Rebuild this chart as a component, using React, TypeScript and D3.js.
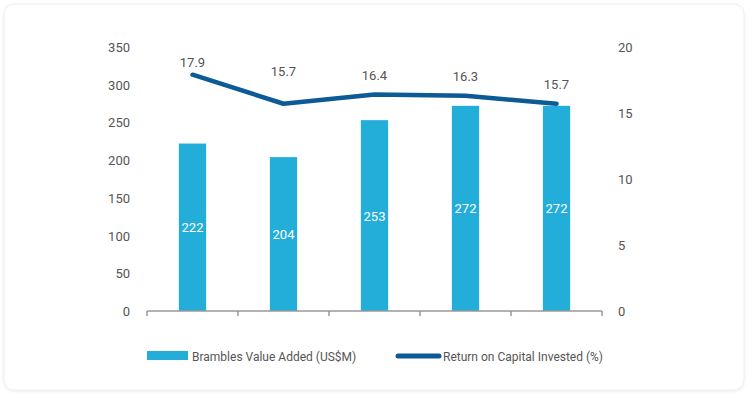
import { useEffect, useRef } from "react";
import * as d3 from "d3";

const years = ["2015", "2016", "2017", "2018", "2019"];
const valueAdded = [222, 204, 253, 272, 272];
const roci = [17.9, 15.7, 16.4, 16.3, 15.7];
const leftTicks = [0, 50, 100, 150, 200, 250, 300, 350];
const rightTicks = [0, 5, 10, 15, 20];

const App = () => {
  const svgRef = useRef<SVGSVGElement>(null);

  useEffect(() => {
    document.body.style.margin = "0";
    const width = 750;
    const height = 397;
    const margin = { top: 47, right: 148, bottom: 86, left: 147 };
    const font = "Roboto, 'Open Sans', sans-serif";

    const svg = d3.select(svgRef.current);
    svg.selectAll("*").remove();
    svg.attr("width", width).attr("height", height);

    const defs = svg.append("defs");
    const f = defs.append("filter").attr("id", "sh").attr("x", "-5%").attr("y", "-5%").attr("width", "110%").attr("height", "110%");
    f.append("feDropShadow").attr("dx", 0).attr("dy", 1).attr("stdDeviation", 1.5).attr("flood-color", "#000").attr("flood-opacity", 0.08);

    svg.append("rect")
      .attr("x", 4).attr("y", 4)
      .attr("width", 740).attr("height", 386)
      .attr("rx", 10)
      .attr("fill", "#fff")
      .attr("stroke", "#eeeeee")
      .attr("filter", "url(#sh)");

    const x = d3.scaleBand()
      .domain(years)
      .range([margin.left, width - margin.right]);

    const yL = d3.scaleLinear().domain([0, 350]).range([height - margin.bottom, margin.top]);
    const yR = d3.scaleLinear().domain([0, 20]).range([height - margin.bottom, margin.top]);

    const barW = x.bandwidth() * 0.3;

    // bars
    svg.append("g")
      .attr("fill", "#22aed9")
      .selectAll("rect")
      .data(valueAdded)
      .join("rect")
      .attr("x", (_, i) => x(years[i])! + x.bandwidth() / 2 - barW / 2)
      .attr("y", (d) => yL(d))
      .attr("width", barW)
      .attr("height", (d) => yL(0) - yL(d));

    svg.append("g")
      .selectAll("text")
      .data(valueAdded)
      .join("text")
      .attr("x", (_, i) => x(years[i])! + x.bandwidth() / 2)
      .attr("y", (d) => (yL(d) + yL(0)) / 2 + 5)
      .attr("text-anchor", "middle")
      .attr("font-family", font)
      .attr("font-size", 13)
      .attr("fill", "#fff")
      .text((d) => d);

    // x axis
    const ax = svg.append("g").attr("transform", `translate(0,${yL(0)})`);
    ax.append("line")
      .attr("x1", margin.left).attr("x2", width - margin.right)
      .attr("stroke", "#999").attr("stroke-width", 1.5);
    ax.selectAll("line.tick")
      .data(d3.range(years.length + 1))
      .join("line")
      .attr("class", "tick")
      .attr("x1", (i) => margin.left + i * x.step())
      .attr("x2", (i) => margin.left + i * x.step())
      .attr("y1", 0).attr("y2", 5)
      .attr("stroke", "#999").attr("stroke-width", 1.5);

    // left axis labels
    svg.append("g")
      .selectAll("text")
      .data(leftTicks)
      .join("text")
      .attr("x", 130)
      .attr("y", (d) => yL(d) + 5)
      .attr("text-anchor", "end")
      .attr("font-family", font)
      .attr("font-size", 13)
      .attr("fill", "#555")
      .text((d) => d);

    // right axis labels
    svg.append("g")
      .selectAll("text")
      .data(rightTicks)
      .join("text")
      .attr("x", 618)
      .attr("y", (d) => yR(d) + 5)
      .attr("text-anchor", "start")
      .attr("font-family", font)
      .attr("font-size", 13)
      .attr("fill", "#555")
      .text((d) => d);

    // line
    const line = d3.line<number>()
      .x((_, i) => x(years[i])! + x.bandwidth() / 2)
      .y((d) => yR(d));

    svg.append("path")
      .datum(roci)
      .attr("d", line)
      .attr("fill", "none")
      .attr("stroke", "#0c5a96")
      .attr("stroke-width", 4.5)
      .attr("stroke-linecap", "round")
      .attr("stroke-linejoin", "round");

    svg.append("g")
      .selectAll("text")
      .data(roci)
      .join("text")
      .attr("x", (_, i) => x(years[i])! + x.bandwidth() / 2)
      .attr("y", (d, i) => yR(d) - (i === 0 ? 8 : i === 1 ? 28 : 15))
      .attr("text-anchor", "middle")
      .attr("font-family", font)
      .attr("font-size", 13)
      .attr("fill", "#555")
      .text((d) => d.toFixed(1));

    // legend
    const lg = svg.append("g").attr("font-family", font).attr("font-size", 12).attr("fill", "#555");
    lg.append("rect").attr("x", 147).attr("y", 351).attr("width", 41).attr("height", 9).attr("fill", "#22aed9");
    lg.append("text").attr("x", 192).attr("y", 361).text("Brambles Value Added (US$M)");
    lg.append("line")
      .attr("x1", 398).attr("x2", 439).attr("y1", 356).attr("y2", 356)
      .attr("stroke", "#0c5a96").attr("stroke-width", 5).attr("stroke-linecap", "round");
    lg.append("text").attr("x", 443).attr("y", 361).text("Return on Capital Invested (%)");
  }, []);

  return <svg ref={svgRef}></svg>;
};

export default App;
